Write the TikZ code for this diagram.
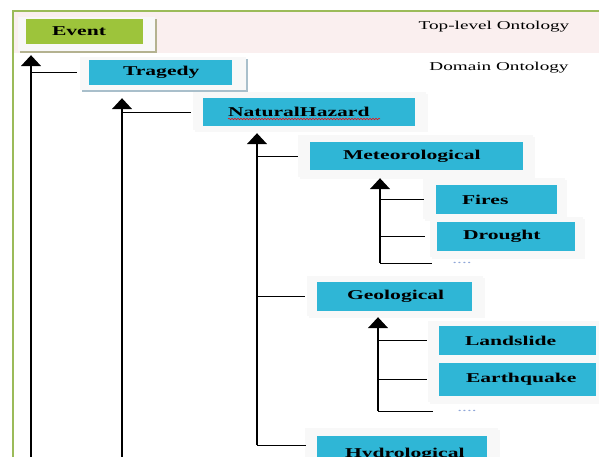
\documentclass[tikz,border=0pt]{standalone}
\usepackage{xcolor}
\usepackage{tikz}
\usepackage{fontspec}
\setmainfont{Liberation Serif}[FakeStretch=1.6]
\usetikzlibrary{arrows.meta,backgrounds,decorations.pathmorphing}
\definecolor{ontgreen}{HTML}{9DC43B}
\definecolor{ontcyan}{HTML}{2FB6D6}
\definecolor{ontborder}{HTML}{9BBB59}
\definecolor{ontpink}{HTML}{FAEFEF}
\definecolor{ontplate}{HTML}{F8F8F8}
\definecolor{ontolive}{HTML}{B4B290}
\definecolor{ontsteel}{HTML}{A9BFCB}
\definecolor{ontdots}{HTML}{8FA6D8}

\begin{document}
\begin{tikzpicture}[x=1pt,y=-1pt,
  catbox/.style n args={3}{fill=ontcyan,inner sep=0pt,align=left,text width=#1pt,minimum height=#2pt,
    execute at begin node=\hspace*{#3pt},font=\fontsize{13.5}{16}\selectfont\bfseries},
  tag/.style={inner sep=0pt,font=\fontsize{12}{14}\selectfont},
  dots/.style={inner sep=0pt,text=ontdots,font=\fontsize{12}{14}\selectfont},
  trunk/.style={line width=1.6pt,-{Triangle[width=20pt,length=11pt]}},
  stub/.style={line width=0.9pt,shorten >=12pt},
  squiggle/.style={red,line width=0.5pt,decorate,decoration={snake,amplitude=0.8pt,segment length=3pt}}]
  \useasboundingbox (0,0) rectangle (599,457);
  \clip (0,0) rectangle (599,457);

  \node[catbox={117}{25}{26},fill=ontgreen] (event) at (84.5,31.5) {Event};
  \node[catbox={143}{25}{34}] (tragedy) at (160.5,72.5) {Tragedy};
  \node[catbox={212}{28}{25}] (hazard) at (309,112) {NaturalHazard};
  \node[catbox={213}{28}{33}] (meteo) at (416.5,156) {Meteorological};
  \node[catbox={121}{29}{26}] (fires) at (496.5,199.5) {Fires};
  \node[catbox={138}{29}{26}] (drought) at (506,236.5) {Drought};
  \node[catbox={155}{29}{30}] (geo) at (394.5,296.5) {Geological};
  \node[catbox={157}{29}{26}] (landslide) at (517.5,340.5) {Landslide};
  \node[catbox={157}{33}{27}] (quake) at (517.5,379.5) {Earthquake};
  \node[catbox={170}{36}{28}] (hydro) at (402,454) {Hydrological};
  \node[dots] (mdots) at (462,263) {....};
  \node[dots] (gdots) at (467,411) {....};

  \node[tag] (toplabel) at (494,27) {Top-level Ontology};
  \node[tag] (domlabel) at (499,68) {Domain Ontology};

  \draw[squiggle] (228,119) -- (380,119);

  \begin{pgfonlayer}{background}
    \fill[ontpink] (13,11) rectangle (599,53);
    \foreach \a/\l/\t/\r/\d/\s in {event/8/2/12/7/ontolive, tragedy/9/3/14/5/ontsteel,
        hazard/10/6/11/4/ontplate, meteo/12/7/10/7/ontplate, fires/13/7/8/5/ontplate,
        drought/7/5/8/6/ontplate, geo/10/6/11/5/ontplate, landslide/11/5/10/4/ontplate,
        quake/11/4/10/6/ontplate, hydro/12/8/11/10/ontplate}
    {
      \fill[\s] ([shift={(-\l+2,-\t+2)}]\a.north west) rectangle ([shift={(\r+2,\d+2)}]\a.south east);
      \fill[ontplate] ([shift={(-\l,-\t)}]\a.north west) rectangle ([shift={(\r,\d)}]\a.south east);
    }
  \end{pgfonlayer}
  \draw[ontborder,line width=1.5pt] (13,470) -- (13,11) -- (610,11);

  \coordinate (evfoot) at (31,470);
  \coordinate (trfoot) at (122,470);
  \coordinate (hzfoot) at (257,445);
  \coordinate (mtfoot) at (380,263);
  \coordinate (gefoot) at (378,411);

  \draw[trunk,shorten >=11pt] (evfoot) -- (evfoot |- event.south);
  \draw[trunk,shorten >=13pt] (trfoot) -- (trfoot |- tragedy.south);
  \draw[trunk,shorten >=7pt] (hzfoot) -- (hzfoot |- hazard.south);
  \draw[trunk,shorten >=8pt] (mtfoot) -- (mtfoot |- meteo.south);
  \draw[trunk,shorten >=6pt] (gefoot) -- (gefoot |- geo.south);

  \draw[stub] (evfoot |- tragedy.west) -- (tragedy.west);
  \draw[stub] (trfoot |- hazard.west) -- (hazard.west);
  \draw[stub] (hzfoot |- meteo.west) -- (meteo.west);
  \draw[stub] (hzfoot |- geo.west) -- (geo.west);
  \draw[stub,shorten >=0pt] (hzfoot) -- ([xshift=-11pt]hzfoot -| hydro.west);
  \draw[stub] (mtfoot |- fires.west) -- (fires.west);
  \draw[stub] (mtfoot |- drought.west) -- (drought.west);
  \draw[stub,shorten >=20pt] (mtfoot) -- (mdots.west);
  \draw[stub] (gefoot |- landslide.west) -- (landslide.west);
  \draw[stub] (gefoot |- quake.west) -- (quake.west);
  \draw[stub,shorten >=24pt] (gefoot) -- (gdots.west);
\end{tikzpicture}
\end{document}
